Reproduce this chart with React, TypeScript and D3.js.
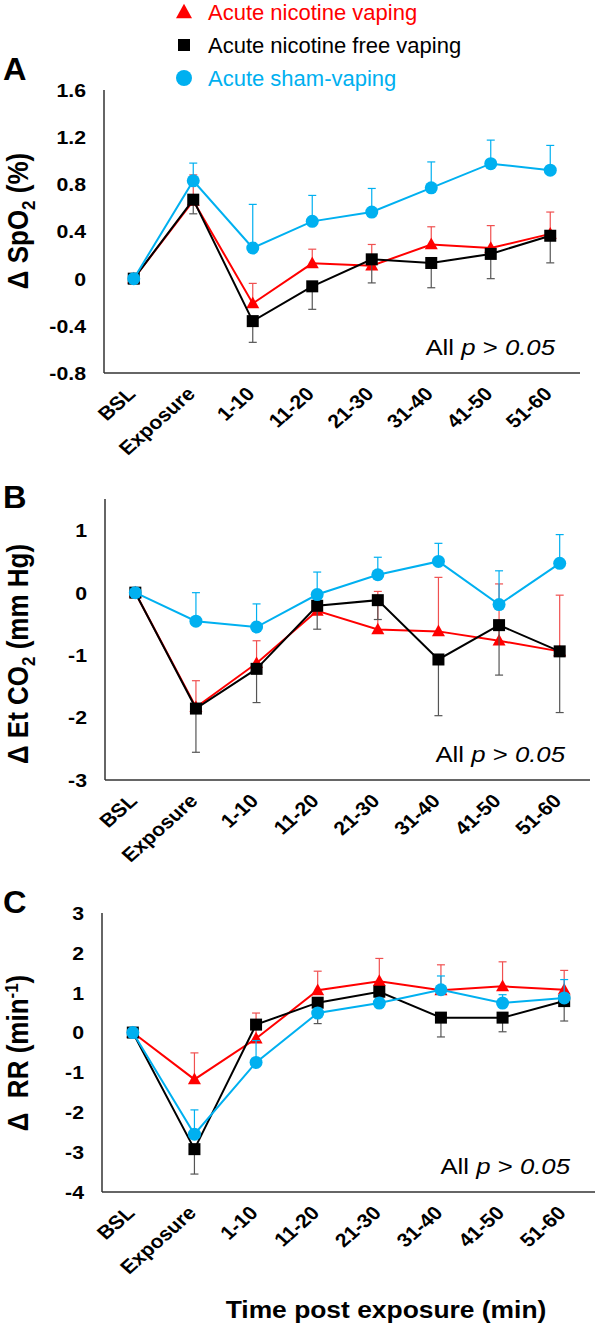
import React from "react";
import * as d3 from "d3";

const categories = ["BSL", "Exposure", "1-10", "11-20", "21-30", "31-40", "41-50", "51-60"];
const seriesNames = ["Acute nicotine vaping", "Acute nicotine free vaping", "Acute sham-vaping"];

// Panel A: Δ SpO2 (%)
const spo2Nicotine = [0, 0.66, -0.21, 0.13, 0.11, 0.29, 0.26, 0.38];
const spo2NicotineSE = [0, 0.22, 0.17, 0.12, 0.18, 0.15, 0.19, 0.185];
const spo2NicFree = [0, 0.67, -0.36, -0.065, 0.164, 0.133, 0.21, 0.364];
const spo2NicFreeSE = [0, 0.12, 0.18, 0.195, 0.2, 0.21, 0.21, 0.23];
const spo2Sham = [0, 0.83, 0.26, 0.486, 0.565, 0.77, 0.975, 0.92];
const spo2ShamSE = [0, 0.15, 0.37, 0.22, 0.2, 0.22, 0.2, 0.21];
const spo2Ticks = [-0.8, -0.4, 0, 0.4, 0.8, 1.2, 1.6];

// Panel B: Δ Et CO2 (mm Hg)
const etco2Nicotine = [0, -1.835, -1.13, -0.29, -0.59, -0.62, -0.77, -0.94];
const etco2NicotineSE = [0, 0.425, 0.36, 0.08, 0.61, 0.865, 0.91, 0.9];
const etco2NicFree = [0, -1.856, -1.22, -0.21, -0.12, -1.07, -0.52, -0.94];
const etco2NicFreeSE = [0, 0.7, 0.54, 0.375, 0.31, 0.9, 0.8, 0.98];
const etco2Sham = [0, -0.457, -0.55, -0.03, 0.287, 0.5, -0.19, 0.47];
const etco2ShamSE = [0, 0.457, 0.37, 0.36, 0.28, 0.29, 0.54, 0.46];
const etco2Ticks = [-3, -2, -1, 0, 1];

// Panel C: Δ RR (min-1)
const rrNicotine = [0, -1.175, -0.15, 1.06, 1.29, 1.06, 1.16, 1.075];
const rrNicotineSE = [0, 0.665, 0.64, 0.48, 0.57, 0.64, 0.615, 0.485];
const rrNicFree = [0, -2.925, 0.2, 0.75, 1.025, 0.375, 0.375, 0.79];
const rrNicFreeSE = [0, 0.625, 0.1, 0.525, 0.385, 0.485, 0.355, 0.5];
const rrSham = [0, -2.55, -0.75, 0.49, 0.74, 1.075, 0.74, 0.87];
const rrShamSE = [0, 0.61, 0.55, 0.12, 0.11, 0.345, 0.21, 0.46];
const rrTicks = [-4, -3, -2, -1, 0, 1, 2, 3];

const RED = "#FF0000";
const BLACK = "#000000";
const BLUE = "#00B0F0";
const FONT = "Arial, 'Liberation Sans', sans-serif";
const SX = 1.12; // horizontal stretch of the original figure's lettering

type Series = { values: number[]; se: number[]; color: string; errColor: string; marker: string; dir: number };

function Marker({ type, x, y, color, size }: { type: string; x: number; y: number; color: string; size: number }) {
  if (type === "circle") return <circle cx={x} cy={y} r={size / 2} fill={color} />;
  if (type === "square")
    return <rect x={x - size / 2} y={y - size / 2} width={size} height={size} fill={color} />;
  const h = size * 0.9;
  const pts = `${x},${y - h / 2 - 1} ${x + size / 2},${y + h / 2 - 1} ${x - size / 2},${y + h / 2 - 1}`;
  return <polygon points={pts} fill={color} />;
}

function Panel(props: {
  letter: string;
  letterY: number;
  x0: number;
  x1: number;
  yTop: number;
  yBottom: number;
  domain: [number, number];
  ticks: number[];
  series: Series[];
  title: React.ReactNode;
  titleY: number;
}) {
  const { letter, letterY, x0, x1, yTop, yBottom, domain, ticks, series, title, titleY } = props;
  const x = d3.scaleBand<string>().domain(categories).range([x0, x1]);
  const y = d3.scaleLinear().domain(domain).range([yBottom, yTop]);
  const cx = (c: string) => (x(c) as number) + x.bandwidth() / 2;
  const line = d3
    .line<number>()
    .x((_, i) => cx(categories[i]))
    .y((v) => y(v));
  const sizes: Record<string, number> = { circle: 13, square: 12, triangle: 13 };
  return (
    <g>
      <text
        transform={`translate(3,${letterY}) scale(1.05,1)`}
        fontFamily={FONT}
        fontWeight="bold"
        fontSize={31}
      >
        {letter}
      </text>
      <text
        transform={`translate(28,${titleY}) scale(1.1,1) rotate(-90)`}
        textAnchor="middle"
        fontFamily={FONT}
        fontWeight="bold"
        fontSize={26}
      >
        {title}
      </text>
      {ticks.map((t) => (
        <text
          key={t}
          transform={`translate(${x0 - 18},${y(t)}) scale(${SX},1)`}
          dy="0.36em"
          textAnchor="end"
          fontFamily={FONT}
          fontWeight="bold"
          fontSize={19}
        >
          {String(t)}
        </text>
      ))}
      {categories.map((c) => (
        <text
          key={c}
          transform={`translate(${cx(c) + 3},${yBottom + 22}) scale(${SX},1) rotate(-45)`}
          textAnchor="end"
          fontFamily={FONT}
          fontWeight="bold"
          fontSize={19}
        >
          {c}
        </text>
      ))}
      <line x1={x0} x2={x0} y1={yTop} y2={yBottom} stroke="#333" strokeWidth={1.5} />
      <line x1={x0} x2={x1} y1={yBottom} y2={yBottom} stroke="#333" strokeWidth={1.5} />
      <text
        transform={`translate(${x1 - 25},${yBottom - 18}) scale(${SX},1)`}
        textAnchor="end"
        fontFamily={FONT}
        fontSize={23}
      >
        All <tspan fontStyle="italic">p</tspan> {">"} <tspan fontStyle="italic">0.05</tspan>
      </text>
      {series.map((s, si) => (
        <g key={si}>
          {s.values.map((v, i) => {
            if (s.se[i] === 0) return null;
            const px = cx(categories[i]);
            const end = y(v + s.dir * s.se[i]);
            return (
              <g key={i} stroke={s.errColor} strokeWidth={1.2}>
                <line x1={px} x2={px} y1={y(v)} y2={end} />
                <line x1={px - 4} x2={px + 4} y1={end} y2={end} />
              </g>
            );
          })}
          <path d={line(s.values) || ""} fill="none" stroke={s.color} strokeWidth={2} />
          {s.values.map((v, i) => (
            <Marker
              key={i}
              type={s.marker}
              x={cx(categories[i])}
              y={y(v)}
              color={s.color}
              size={sizes[s.marker]}
            />
          ))}
        </g>
      ))}
    </g>
  );
}

function mk(values: number[], se: number[], k: number): Series {
  const colors = [RED, BLACK, BLUE];
  const errColors = ["#F05050", "#555555", BLUE];
  const markers = ["triangle", "square", "circle"];
  const dirs = [1, -1, 1];
  return { values, se, color: colors[k], errColor: errColors[k], marker: markers[k], dir: dirs[k] };
}

export default function App() {
  const legendColors = [RED, BLACK, BLUE];
  const legendMarkers = ["triangle", "square", "circle"];
  const legendY = [12, 45, 78];
  const legendSizes = [16, 12, 16];
  return (
    <svg
      width={600}
      height={1333}
      style={{ position: "absolute", left: 0, top: 0, background: "#fff" }}
    >
      <rect width={600} height={1333} fill="#fff" />
      {seriesNames.map((n, i) => (
        <g key={n}>
          <Marker type={legendMarkers[i]} x={184} y={legendY[i]} color={legendColors[i]} size={legendSizes[i]} />
          <text x={208} y={legendY[i]} dy="0.36em" fontFamily={FONT} fontSize={22} fill={legendColors[i]}>
            {n}
          </text>
        </g>
      ))}
      <Panel
        letter="A"
        letterY={80}
        x0={104}
        x1={580}
        yTop={90}
        yBottom={373}
        domain={[-0.8, 1.6]}
        ticks={spo2Ticks}
        series={[mk(spo2Nicotine, spo2NicotineSE, 0), mk(spo2NicFree, spo2NicFreeSE, 1), mk(spo2Sham, spo2ShamSE, 2)]}
        titleY={221}
        title={
          <>
            Δ SpO<tspan fontSize={17} dy={6}>2</tspan>
            <tspan dy={-6}> (%)</tspan>
          </>
        }
      />
      <Panel
        letter="B"
        letterY={508}
        x0={105}
        x1={590}
        yTop={499}
        yBottom={780}
        domain={[-3, 1.5]}
        ticks={etco2Ticks}
        series={[mk(etco2Nicotine, etco2NicotineSE, 0), mk(etco2NicFree, etco2NicFreeSE, 1), mk(etco2Sham, etco2ShamSE, 2)]}
        titleY={654}
        title={
          <>
            Δ Et CO<tspan fontSize={17} dy={6}>2</tspan>
            <tspan dy={-6}> (mm Hg)</tspan>
          </>
        }
      />
      <Panel
        letter="C"
        letterY={913}
        x0={102}
        x1={595}
        yTop={913}
        yBottom={1192}
        domain={[-4, 3]}
        ticks={rrTicks}
        series={[mk(rrNicotine, rrNicotineSE, 0), mk(rrNicFree, rrNicFreeSE, 1), mk(rrSham, rrShamSE, 2)]}
        titleY={1053}
        title={
          <>
            Δ{"\u00A0\u00A0"}RR (min<tspan fontSize={17} dy={-9}>-1</tspan>
            <tspan dy={9}>)</tspan>
          </>
        }
      />
      <text
        transform={`translate(386,1318) scale(1.1,1)`}
        textAnchor="middle"
        fontFamily={FONT}
        fontWeight="bold"
        fontSize={24}
      >
        Time post exposure (min)
      </text>
    </svg>
  );
}
